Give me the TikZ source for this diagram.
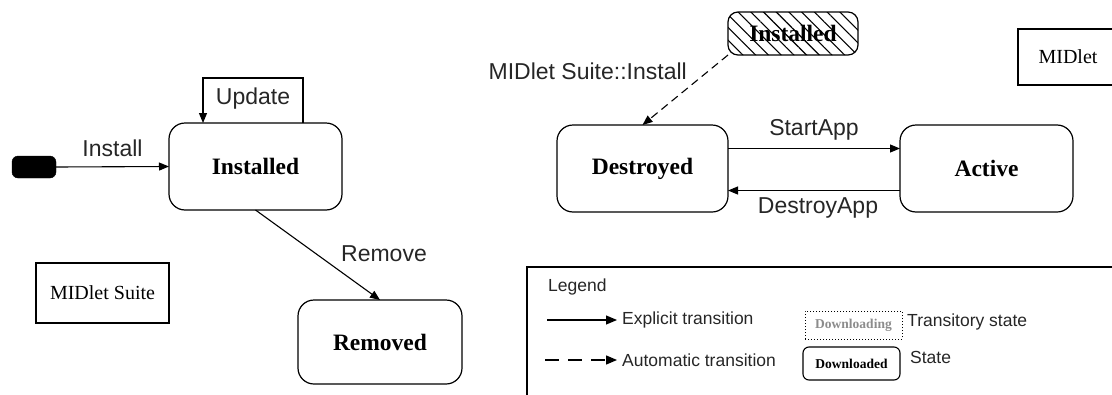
\documentclass[tikz,border=0pt]{standalone}
\usepackage{fontspec}
\setmainfont{Liberation Serif}
\setsansfont{Liberation Sans}
\usetikzlibrary{arrows.meta,patterns.meta}
\begin{document}
\begin{tikzpicture}[x=1pt,y=-1pt,
  stbox/.style={draw, line width=1.2pt, rounded corners=16pt, inner sep=0pt, outer sep=0pt,
    font=\fontsize{23.5}{27}\selectfont\bfseries},
  plainbox/.style={draw, line width=1.6pt, inner sep=0pt, outer sep=0pt,
    font=\fontsize{20}{23}\selectfont},
  lbl/.style={font=\sffamily\fontsize{23}{27}\selectfont, text=black!85, inner sep=0pt},
  leglbl/.style={font=\sffamily\fontsize{17.5}{20}\selectfont, text=black!85, inner sep=0pt, anchor=west},
  trans/.style={-{Triangle[length=10pt,width=8pt]}, line width=1.1pt}
]
\useasboundingbox (0,0) rectangle (1112,394);
\clip (0,0) rectangle (1112,394);

% ---- left part: MIDlet Suite ----
\node[fill=black, draw, rounded corners=6pt, minimum width=44pt, minimum height=22pt, inner sep=0pt, outer sep=0pt] (init) at (34,167) {};
\node[stbox, minimum width=173pt, minimum height=87pt] (inst) at (255.5,166.5) {Installed};
\node[stbox, minimum width=164pt, minimum height=84pt] (rem) at (380,342) {Removed};
\node[plainbox, minimum width=133pt, minimum height=60pt] (ms) at (102.5,293) {MIDlet Suite};
\draw[line width=2.4pt] (ms.north east) -- (ms.south east) -- (ms.south west);

\draw[trans] (init.east) -- node[lbl, above=9pt] {Install} (inst.west);
\draw[trans] (303,0 |- inst.north) -- (303,78) -- node[lbl, below=9pt] {Update} (203,78) -- (203,0 |- inst.north);
\draw[trans] (inst.south) -- (rem.north);
\node[lbl] (removelbl) at (384,254) {Remove};

% ---- right part: MIDlet ----
\node[stbox, rounded corners=10pt, minimum width=130pt, minimum height=43pt,
  pattern={Lines[angle=-45,distance=9pt,line width=1.1pt]}] (ins2) at (793,33.5) {};
\node[font=\fontsize{23.5}{27}\selectfont\bfseries, inner sep=1pt] (ins2t) at (ins2) {Installed};
\node[stbox, minimum width=171pt, minimum height=87pt] (dest) at (642.5,168.5) {Destroyed};
\node[stbox, minimum width=173pt, minimum height=87pt] (act) at (986.5,168.5) {Active};
\node[plainbox, minimum width=100pt, minimum height=56pt] (midlet) at (1068,57) {MIDlet};

\draw[trans, dash pattern=on 8pt off 5pt] (ins2.south west) -- (dest.north);
\node[lbl, anchor=east] (sil) at (687,71) {MIDlet Suite::Install};
\draw[trans] ([yshift=20pt]dest.east) -- node[lbl, above=8pt] {StartApp} ([yshift=20pt]act.west);
\draw[trans] ([yshift=-22pt]act.west) -- node[lbl, below=7pt, xshift=4pt] {DestroyApp} ([yshift=-22pt]dest.east);

% ---- legend ----
\draw[line width=1.8pt] (1130,267) -- (527,267) -- (527,410);
\node[leglbl] (leg) at (548,287) {Legend};
\coordinate (ea) at (547,320);
\coordinate (eb) at (617,320);
\draw[trans, -{Triangle[length=11pt,width=9pt]}] (ea) -- (eb);
\node[leglbl] (expl) at (622,320) {Explicit transition};
\coordinate (aa) at (545,360);
\coordinate (ab) at (617,360);
\draw[line width=1.3pt, dash pattern=on 14pt off 9pt, -{Triangle[length=11pt,width=9pt]}] (aa) -- (ab);
\node[leglbl] (auto) at (622,360) {Automatic transition};
\node[draw, dotted, line width=1pt, minimum width=97pt, minimum height=28pt, inner sep=0pt,
  font=\fontsize{13.5}{15}\selectfont\bfseries, text=black!45] (dl) at (853.5,325) {Downloading};
\node[leglbl] (trs) at (907,322) {Transitory state};
\node[draw, line width=1.1pt, rounded corners=6pt, minimum width=97pt, minimum height=33pt, inner sep=0pt,
  font=\fontsize{13.5}{15}\selectfont\bfseries] (dld) at (851.5,363.5) {Downloaded};
\node[leglbl] (stl) at (910,357) {State};
\end{tikzpicture}
\end{document}
